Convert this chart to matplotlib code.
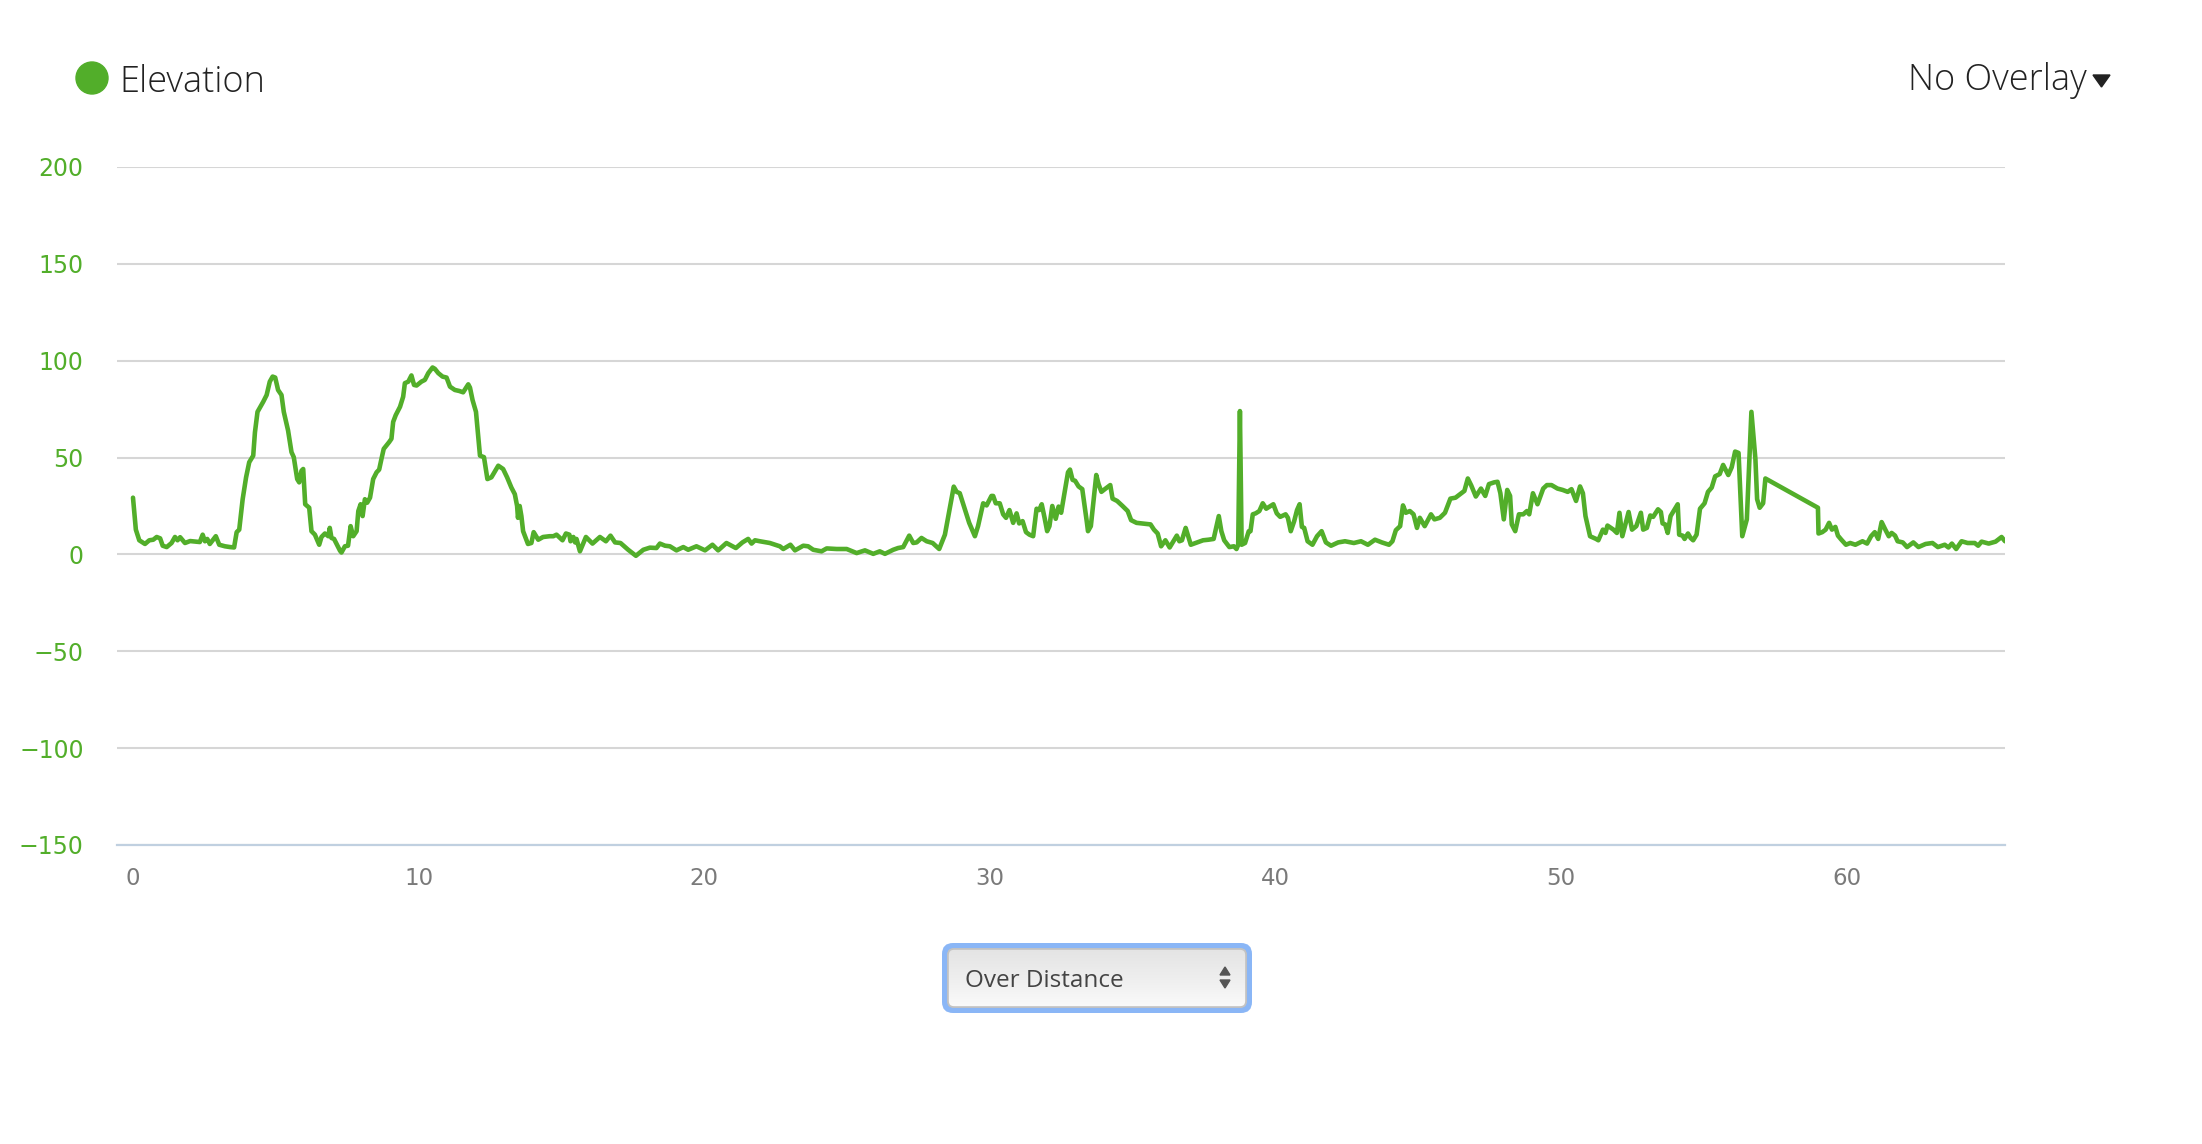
import matplotlib
matplotlib.use('Agg')
import matplotlib.pyplot as plt
from matplotlib.patches import FancyBboxPatch, Circle, Polygon
from matplotlib.colors import LinearSegmentedColormap
import numpy as np

# Colours
GREEN = '#52AE2A'
GRID_GRAY = '#D6D6D6'
AXIS_BLUE = '#C0D0E0'
TEXT_DARK = '#222222'

# Elevation profile (distance in km, elevation in m)
distance_km = [
    0.0, 0.1, 0.22, 0.42, 0.57, 0.71, 0.83, 0.95, 1.04, 1.18, 1.35, 1.47, 1.56, 1.65, 1.82,
    2.0, 2.34, 2.44, 2.52, 2.6, 2.69, 2.9, 3.02, 3.22, 3.4, 3.54, 3.63, 3.72, 3.84, 3.96,
    4.07, 4.21, 4.27, 4.36, 4.56, 4.68, 4.79, 4.89, 4.98, 5.08, 5.2, 5.28, 5.43, 5.55, 5.63,
    5.75, 5.82, 5.9, 5.96, 6.03, 6.17, 6.25, 6.37, 6.52, 6.6, 6.72, 6.84, 6.89, 6.95, 7.04,
    7.25, 7.3, 7.42, 7.53, 7.62, 7.71, 7.83, 7.89, 7.97, 8.04, 8.12, 8.2, 8.3, 8.41, 8.53,
    8.62, 8.7, 8.78, 8.97, 9.05, 9.11, 9.2, 9.35, 9.46, 9.52, 9.64, 9.75, 9.84, 9.93, 10.1,
    10.22, 10.34, 10.49, 10.57, 10.69, 10.84, 10.98, 11.1, 11.27, 11.42, 11.56, 11.74, 11.8,
    11.89, 12.01, 12.15, 12.29, 12.41, 12.55, 12.79, 12.96, 13.1, 13.25, 13.37, 13.45, 13.48,
    13.54, 13.6, 13.66, 13.75, 13.83, 13.95, 14.03, 14.19, 14.36, 14.59,
    14.72, 14.83, 15.04, 15.16, 15.28, 15.32, 15.42, 15.48, 15.53, 15.65, 15.86, 16.09, 16.35,
    16.56, 16.72, 16.88, 17.07, 17.34, 17.61, 17.87, 18.1, 18.33, 18.45, 18.63, 18.8, 19.03,
    19.27, 19.44, 19.73, 20.03, 20.29, 20.49, 20.78, 21.11, 21.34, 21.54, 21.66, 21.78, 21.95,
    22.3, 22.65, 22.77, 23.02, 23.18, 23.47, 23.64, 23.82, 24.11, 24.29, 24.64, 24.99, 25.34,
    25.63, 25.92, 26.15, 26.33, 26.62, 26.79, 26.97, 27.18, 27.32, 27.44, 27.61, 27.79, 28.0,
    28.23, 28.43, 28.54, 28.74, 28.84, 28.95, 29.13, 29.28, 29.48, 29.59, 29.77, 29.89, 30.06,
    30.12, 30.21,
    30.35, 30.47, 30.57, 30.69, 30.82, 30.94, 31.03, 31.15, 31.27, 31.39, 31.52, 31.64, 31.73,
    31.82, 31.92, 32.01, 32.09, 32.19, 32.31, 32.41, 32.5, 32.62, 32.74, 32.81, 32.9, 32.99,
    33.11, 33.24, 33.4, 33.44, 33.54, 33.64, 33.73, 33.81, 33.91, 34.03, 34.22, 34.3, 34.46,
    34.65, 34.83, 34.95, 35.14, 35.63, 35.75, 35.88, 36.0, 36.15, 36.3, 36.43, 36.55, 36.64,
    36.73, 36.86, 37.04, 37.47, 37.66, 37.84, 38.02, 38.11, 38.21, 38.39, 38.55, 38.64, 38.7,
    38.76, 38.82, 38.94, 39.07, 39.13, 39.21, 39.31, 39.44, 39.56, 39.68, 39.93, 40.05, 40.17,
    40.36, 40.44, 40.54, 40.66, 40.76, 40.85, 40.93, 41.01, 41.13, 41.3, 41.46, 41.62, 41.77,
    41.95, 42.2, 42.44, 42.75, 43.0, 43.24, 43.49, 43.73, 43.98, 44.1, 44.22, 44.37, 44.47,
    44.57, 44.71, 44.84, 44.96, 45.06, 45.23, 45.45, 45.57, 45.76, 45.94, 46.13, 46.31, 46.62,
    46.74, 46.86, 47.02, 47.2, 47.35, 47.48, 47.66, 47.78,
    47.88, 48.0, 48.12, 48.22, 48.28, 48.4, 48.53, 48.68, 48.81, 48.89, 49.02, 49.18, 49.38,
    49.51, 49.67, 49.88, 50.06, 50.24, 50.37, 50.53, 50.67, 50.77, 50.86, 51.02, 51.23, 51.31,
    51.47, 51.56, 51.63, 51.84, 51.96, 52.05, 52.15, 52.37, 52.49, 52.64, 52.8, 52.88, 53.01,
    53.13, 53.23, 53.4, 53.5, 53.56, 53.65, 53.74, 53.84, 54.09, 54.14, 54.26, 54.33, 54.45,
    54.54, 54.63, 54.75, 54.87, 55.03, 55.15, 55.28, 55.4, 55.56, 55.68, 55.86, 55.98, 56.1,
    56.22, 56.35, 56.51, 56.67, 56.81, 56.87, 56.96, 57.08, 57.16, 59.0, 59.02, 59.15, 59.27,
    59.39, 59.49, 59.61, 59.7, 59.82, 59.98, 60.13, 60.31, 60.56, 60.72, 60.86, 60.99, 61.11,
    61.23, 61.36, 61.48, 61.58, 61.7, 61.79, 61.97, 62.12, 62.34, 62.52, 62.77, 63.01, 63.2,
    63.44, 63.57, 63.69, 63.84, 64.03, 64.24, 64.49, 64.61, 64.73, 64.98, 65.22, 65.43, 65.55,
]
elevation_m = [
    29.3, 12.8, 7.3, 5.4, 7.3, 7.6, 9, 8.3, 4.5, 3.8, 5.9, 9, 7.3, 8.9, 5.9,
    6.9, 6.4, 10.2, 6.8, 8, 5.4, 9.4, 5, 4.2, 3.8, 3.6, 11.5, 12.8, 28.5, 39.8,
    47.6, 51, 63, 73.6, 78.8, 82.3, 89.2, 91.8, 91.3, 84.9, 82.3, 73.6, 64, 52.8, 50.2,
    38.9, 37.2, 43.2, 44.1, 25.9, 24.1, 12, 10.2, 5, 9, 10.8, 9.4, 13.7, 8.5, 8,
    1.9, 1, 4.2, 4.5, 14.6, 9.4, 12, 22.4, 25.9, 19.8, 28.5, 26.7, 29.3, 38.9, 42.4,
    43.8, 49.3, 54.5, 58, 59.7, 68.4, 71.9, 76.2, 81.4, 88.4, 89.2, 92.4, 87.5, 87.2, 89.2,
    90.1, 93.6, 96.5, 95.8, 93.6, 91.8, 91.3, 86.6, 84.9, 84.4, 83.7, 87.8, 86.1,
    79.7, 73.6, 51, 50.2, 38.9, 39.8, 45.8, 44.1, 39.8, 34.5, 31.1, 25, 18.9,
    25, 19.8, 12, 8.5, 5.4, 5.9, 11.5, 7.6, 9, 9.4,
    9.4, 10.2, 7.3, 10.8, 10.2, 6.8, 9, 6.2, 8, 1.6, 9, 5.6, 9,
    6.8, 9.7, 6.2, 5.9, 2.4, -0.7, 2.4, 3.5, 3.3, 5.6, 4.5, 4.2, 2.1,
    3.8, 2.4, 4.2, 2.1, 5, 2.1, 5.9, 3.3, 6.2, 8, 5.6, 7.3, 6.8,
    5.9, 4.2, 2.8, 5, 2.1, 4.5, 4.2, 2.4, 1.6, 3.1, 2.8, 2.8, 0.7,
    2.1, 0.3, 1.6, 0.3, 2.4, 3.3, 3.8, 9.7, 5.9, 6.2, 8.5, 6.8, 5.9,
    2.8, 10.2, 18.9, 35, 32.3, 31.6, 23.3, 16.3, 9.4, 14.6, 26.4, 25.3, 30.2,
    30.2, 26.4,
    26.4, 20.7, 18.9, 22.9, 16.3, 21.2, 16, 17.2, 11.5, 10.2, 9.4, 23.6, 22.9,
    25.9, 18.9, 12, 14.6, 25, 18.4, 24.7, 21.5, 31.9, 42.4, 43.8, 38.5, 38,
    35.1, 33.7, 16.7, 12, 14.6, 28.5, 41, 36.3, 32.3, 33.7, 35.8, 28.8, 27.6,
    25, 22.4, 17.7, 16.3, 15.5, 12.8, 10.8, 4.2, 7.3, 3.6, 6.8, 9.7, 6.8,
    7.3, 13.7, 5, 7.3, 7.6, 8, 19.8, 12, 7.3, 3.8, 4.2, 2.8, 5,
    74.0, 5, 5.9, 12, 12, 20.7, 21.2, 22.4, 26.4, 23.6, 25.9, 21.2, 19.4,
    20.7, 18.9, 12, 17.2, 22.9, 25.9, 14.2, 13.7, 6.8, 5, 9.4, 12, 6.2,
    4.5, 6.2, 6.8, 5.9, 6.8, 5, 7.6, 6.2, 5, 6.8, 12.5, 14.6, 25.3,
    21.5, 22.4, 20.7, 13.7, 18.9, 14.6, 20.7, 18.1, 18.9, 21.5, 28.8, 29.3, 32.8,
    39.2, 35.6, 29.9, 34, 30.2, 36.3, 37.2, 37.5,
    31.6, 18.1, 33.3, 30.2, 15.5, 12, 20.7, 20.7, 22.4, 20.7, 31.6, 25.9, 34,
    35.8, 35.8, 34, 33.3, 32.3, 33.7, 27.6, 35.1, 31.6, 19.8, 9.4, 8, 7.3,
    12.8, 11.1, 14.9, 12.8, 11.1, 21.5, 9.4, 21.9, 12.8, 14.6, 21.5, 12.8, 13.7,
    20.1, 19.4, 23.3, 21.9, 16, 15.5, 11.1, 19.8, 25.9, 10.2, 9.7, 8, 10.8,
    8.5, 7.3, 10.2, 23.6, 26.4, 32.3, 34.5, 40.3, 41.5, 46.2, 41, 45, 53.1,
    52.4, 9.4, 18.1, 73.6, 49.3, 28.5, 24.1, 26.4, 39.2, 24.1, 10.8, 11.5, 12.8,
    16.3, 12.8, 14.2, 9.7, 7.6, 5, 5.9, 5, 6.8, 5.6, 9.4, 11.5, 8,
    16.7, 12.8, 9.4, 11.1, 9.7, 6.8, 6.2, 3.8, 6.2, 3.8, 5.4, 5.9, 3.8,
    5, 3.6, 5.6, 2.8, 6.8, 5.9, 5.9, 4.5, 6.6, 5.6, 6.6, 9, 6.8,
]

y_ticks = [-150, -100, -50, 0, 50, 100, 150, 200]
x_ticks = [0, 10, 20, 30, 40, 50, 60]

W, H = 2202, 1144
fig = plt.figure(figsize=(W / 100, H / 100), dpi=100)
fig.patch.set_facecolor('white')

# Main plot area (pixel box: x 117..2005, y 167..845)
ax = fig.add_axes([117 / W, 1 - 845 / H, (2005 - 117) / W, (845 - 167) / H])
ax.plot(distance_km, elevation_m, color=GREEN, lw=3.3,
        solid_joinstyle='round', solid_capstyle='round', zorder=3)
ax.set_xlim(-0.56, 65.55)
ax.set_ylim(-150, 200)
ax.set_yticks(y_ticks)
ax.set_xticks(x_ticks)
ax.set_axisbelow(True)
ax.grid(axis='y', color=GRID_GRAY, lw=1.5)
for side in ['top', 'right', 'left']:
    ax.spines[side].set_visible(False)
ax.spines['bottom'].set_color(AXIS_BLUE)
ax.spines['bottom'].set_linewidth(1.6)
ax.tick_params(axis='y', length=0, pad=24, labelsize=17, labelcolor=GREEN)
ax.tick_params(axis='x', length=0, pad=16, labelsize=16.5, labelcolor='#7A7A7A')

# Overlay in pixel coordinates for legend and controls
ov = fig.add_axes([0, 0, 1, 1])
ov.set_xlim(0, W)
ov.set_ylim(H, 0)
ov.axis('off')

# Legend item
ov.add_patch(Circle((92, 78), 16, color=GREEN))
ov.text(119, 92, 'Elevation', fontsize=26, family='Open Sans', fontweight='light',
        color=TEXT_DARK, va='baseline', ha='left')

# Overlay selector
ov.text(2087, 90, 'No Overlay', fontsize=26, family='Open Sans', fontweight='light',
        color=TEXT_DARK, va='baseline', ha='right')
ov.add_patch(Polygon([(2093, 75), (2110, 75), (2101.5, 87)], closed=True, color=TEXT_DARK))

# "Over Distance" select box
outer = FancyBboxPatch((942, 943), 310, 70, boxstyle='round,pad=0,rounding_size=11',
                       fc='#8AB6F6', ec='none')
ov.add_patch(outer)
inner = FancyBboxPatch((948, 949), 298, 58, boxstyle='round,pad=0,rounding_size=6',
                       fc='#F2F2F2', ec='#C2C2C2', lw=1.2)
ov.add_patch(inner)
grad = np.linspace(0, 1, 64).reshape(-1, 1)
cmap = LinearSegmentedColormap.from_list('btn', ['#E4E4E4', '#EEEEEE', '#FAFAFA'])
img = ov.imshow(grad, cmap=cmap, extent=(948, 1246, 1007, 949), aspect='auto', zorder=2)
img.set_clip_path(inner)
ov.add_patch(FancyBboxPatch((948, 949), 298, 58, boxstyle='round,pad=0,rounding_size=6',
                            fc='none', ec='#C2C2C2', lw=1.2, zorder=3))
ov.set_xlim(0, W)
ov.set_ylim(H, 0)
ov.text(965, 987, 'Over Distance', fontsize=17.5, family='Open Sans',
        color='#444444', va='baseline', ha='left', zorder=4)
ov.add_patch(Polygon([(1220, 975), (1230, 975), (1225, 967)], closed=True,
                     color='#555555', zorder=4))
ov.add_patch(Polygon([(1220, 980), (1230, 980), (1225, 988)], closed=True,
                     color='#555555', zorder=4))

fig.savefig('out.png', dpi=100, facecolor='white')
